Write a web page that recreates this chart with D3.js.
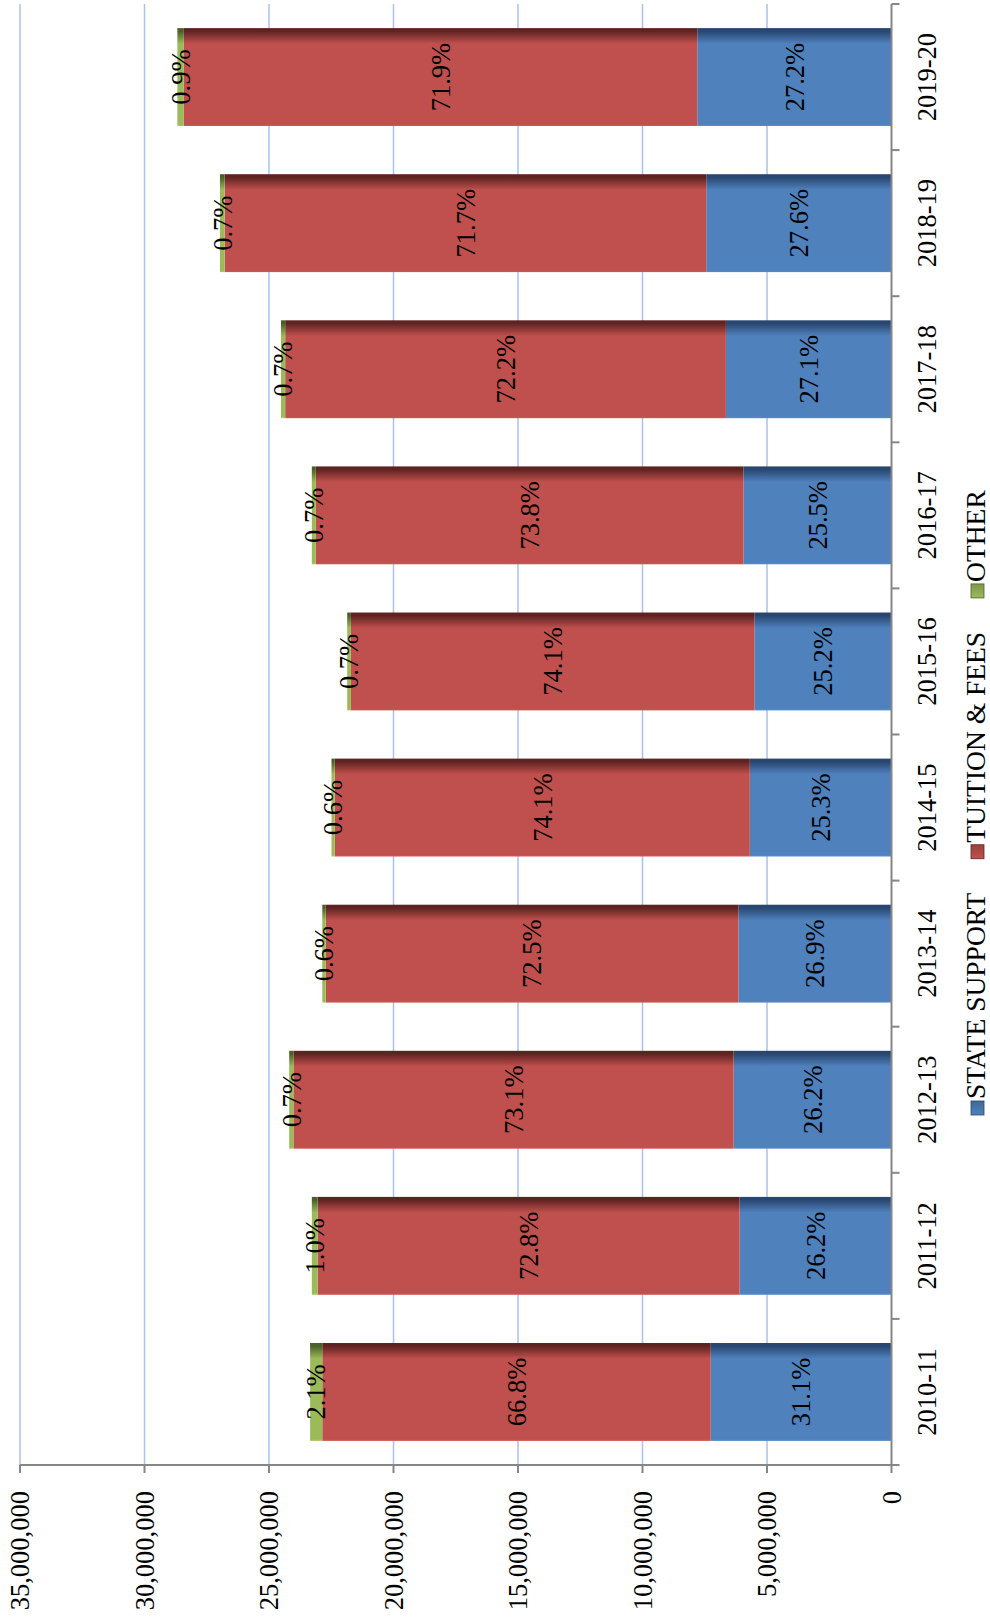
<!DOCTYPE html>
<html>
<head>
<meta charset="utf-8">
<script src="https://cdn.jsdelivr.net/npm/d3@7"></script>
<style>
  html, body { margin: 0; padding: 0; background: #fff; }
  svg { display: block; }
  text { font-family: "Liberation Serif", "Times New Roman", serif; fill: #000; }
</style>
</head>
<body>
<div id="chart"></div>
<script>
// ---------- DATA ----------
const categories = ["2010-11","2011-12","2012-13","2013-14","2014-15","2015-16","2016-17","2017-18","2018-19","2019-20"];
const seriesNames = ["STATE SUPPORT", "TUITION & FEES", "OTHER"];
const stateSupport = [7260000, 6100000, 6340000, 6150000, 5690000, 5510000, 5940000, 6650000, 7440000, 7800000];
const tuitionFees  = [15600000, 16950000, 17680000, 16570000, 16670000, 16200000, 17180000, 17700000, 19340000, 20620000];
const other        = [490000, 230000, 170000, 140000, 130000, 150000, 160000, 170000, 190000, 260000];
const stateLabels   = ["31.1%","26.2%","26.2%","26.9%","25.3%","25.2%","25.5%","27.1%","27.6%","27.2%"];
const tuitionLabels = ["66.8%","72.8%","73.1%","72.5%","74.1%","74.1%","73.8%","72.2%","71.7%","71.9%"];
const otherLabels   = ["2.1%","1.0%","0.7%","0.6%","0.6%","0.7%","0.7%","0.7%","0.7%","0.9%"];
const valueTicks = [0, 5000000, 10000000, 15000000, 20000000, 25000000, 30000000, 35000000];

// ---------- LAYOUT ----------
const W = 990, H = 1624;            // page
const colors = ["#4F81BD", "#C0504D", "#9BBB59"];
const darks  = ["#284670", "#5E2321", "#4B5F26"];
const FONT = 26.5;
const LFONT = 27.5;

const svg = d3.select("#chart").append("svg").attr("width", W).attr("height", H);
const defs = svg.append("defs");
colors.forEach((c, i) => {
  const g = defs.append("linearGradient").attr("id", "grad" + i)
    .attr("x1", 0).attr("y1", 0).attr("x2", 1).attr("y2", 0);
  g.append("stop").attr("offset", 0).attr("stop-color", d3.color(c).brighter(0.2));
  g.append("stop").attr("offset", 0.02).attr("stop-color", c);
  g.append("stop").attr("offset", 0.84).attr("stop-color", c);
  g.append("stop").attr("offset", 0.97).attr("stop-color", darks[i]);
  g.append("stop").attr("offset", 1).attr("stop-color", darks[i]);
  const m = defs.append("linearGradient").attr("id", "lgrad" + i)
    .attr("x1", 0).attr("y1", 0).attr("x2", 1).attr("y2", 0);
  m.append("stop").attr("offset", 0).attr("stop-color", c);
  m.append("stop").attr("offset", 1).attr("stop-color", d3.color(c).darker(0.6));
});

// the chart is a column chart rotated -90 degrees onto the page
const root = svg.append("g").attr("transform", `translate(0,${H}) rotate(-90)`);

const x = d3.scaleBand().domain(categories).range([159, 1620]).paddingInner(0.33).paddingOuter(0.165);
const y = d3.scaleLinear().domain([0, 35000000]).range([891.5, 20]);

// gridlines
root.append("g").selectAll("line").data(valueTicks.filter(t => t > 0)).join("line")
  .attr("x1", 159).attr("x2", 1620)
  .attr("y1", d => y(d)).attr("y2", d => y(d))
  .attr("stroke", "#A9C2EC").attr("stroke-width", 1.5);

// stacked data
const rows = categories.map((c, i) => ({ cat: c, s0: stateSupport[i], s1: tuitionFees[i], s2: other[i], i }));
const stack = d3.stack().keys(["s0", "s1", "s2"])(rows);
const labelSets = [stateLabels, tuitionLabels, otherLabels];

stack.forEach((layer, k) => {
  root.append("g").selectAll("rect").data(layer).join("rect")
    .attr("x", d => x(d.data.cat))
    .attr("width", x.bandwidth())
    .attr("y", d => y(d[1]))
    .attr("height", d => y(d[0]) - y(d[1]))
    .attr("fill", `url(#grad${k})`);
});

// data labels
stack.forEach((layer, k) => {
  root.append("g").selectAll("text").data(layer).join("text")
    .attr("x", d => x(d.data.cat) + x.bandwidth() / 2)
    .attr("y", d => (y(d[0]) + y(d[1])) / 2)
    .attr("text-anchor", "middle")
    .attr("dy", "0.35em")
    .attr("font-size", FONT)
    .text(d => labelSets[k][d.data.i]);
});

// value axis (left in frame, bottom on page)
const axisColor = "#868686";
const va = root.append("g");
va.append("line").attr("x1", 159).attr("x2", 159).attr("y1", y(35000000)).attr("y2", y(0))
  .attr("stroke", axisColor).attr("stroke-width", 2);
va.selectAll(".tk").data(valueTicks).join("line")
  .attr("x1", 151).attr("x2", 159).attr("y1", d => y(d)).attr("y2", d => y(d))
  .attr("stroke", axisColor).attr("stroke-width", 2);
va.selectAll("text").data(valueTicks).join("text")
  .attr("x", 133).attr("y", d => y(d)).attr("dy", "0.35em")
  .attr("text-anchor", "end").attr("font-size", FONT)
  .text(d => d === 0 ? "0" : d3.format(",")(d));

// category axis (bottom in frame, right on page)
const ca = root.append("g");
ca.append("line").attr("x1", 159).attr("x2", 1620).attr("y1", y(0)).attr("y2", y(0))
  .attr("stroke", axisColor).attr("stroke-width", 2);
const half = x.step() * x.paddingInner() / 2;
const bounds = categories.map(c => x(c) - half).concat([x(categories[categories.length - 1]) + x.bandwidth() + half]);
ca.selectAll(".tk").data(bounds).join("line")
  .attr("x1", d => d).attr("x2", d => d).attr("y1", y(0)).attr("y2", y(0) + 8)
  .attr("stroke", axisColor).attr("stroke-width", 2);
ca.selectAll("text").data(categories).join("text")
  .attr("x", d => x(d) + x.bandwidth() / 2).attr("y", 936)
  .attr("text-anchor", "middle").attr("font-size", FONT)
  .text(d => d);

// legend
const lg = root.append("g");
let lx = 509;
seriesNames.forEach((name, k) => {
  lg.append("rect").attr("x", lx).attr("y", 971).attr("width", 14).attr("height", 13)
    .attr("fill", `url(#lgrad${k})`).attr("stroke", darks[k]).attr("stroke-width", 0.8);
  const t = lg.append("text").attr("x", lx + 16).attr("y", 985).attr("font-size", LFONT).text(name);
  const w = t.node().getComputedTextLength();
  lx = lx + 16 + w + 34;
});
</script>
</body>
</html>
